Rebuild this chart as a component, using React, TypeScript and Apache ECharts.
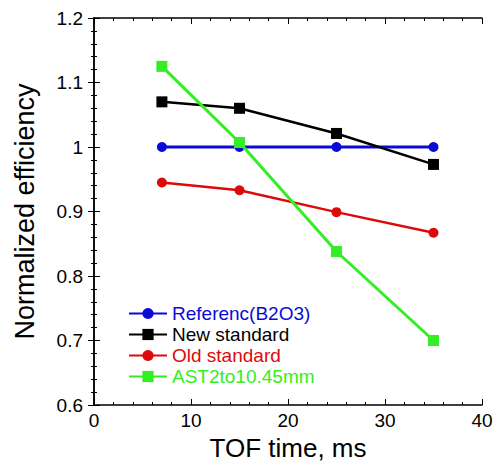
import React, { useEffect, useRef } from "react";
import * as echarts from "echarts";

const xValues = [7, 15, 25, 35];
const referenceB2O3 = [1.0, 1.0, 1.0, 1.0];
const newStandard = [1.07, 1.06, 1.021, 0.973];
const oldStandard = [0.945, 0.933, 0.899, 0.867];
const ast2to1045 = [1.125, 1.007, 0.838, 0.7];

const seriesNames = ["Referenc(B2O3)", "New standard", "Old standard", "AST2to10.45mm"];
const seriesColors = ["#0a0ad6", "#000000", "#dd0a0a", "#33ee22"];
const seriesSymbols = ["circle", "rect", "circle", "rect"];
const seriesWidths = [3, 2.5, 2.5, 3];
const seriesData = [referenceB2O3, newStandard, oldStandard, ast2to1045];

const FONT = "Liberation Sans, Arial, sans-serif";

export default function App() {
  const ref = useRef<HTMLDivElement>(null);
  useEffect(() => {
    if (!ref.current) return;
    const chart = echarts.init(ref.current, null, { renderer: "svg" });
    const axisCommon = {
      axisLine: { show: true, lineStyle: { color: "#000", width: 1.5 } },
      axisTick: { show: true, inside: true, length: 6, lineStyle: { color: "#000", width: 1 } },
      minorTick: { show: true, splitNumber: 5, length: 3, lineStyle: { color: "#000", width: 1 } },
      splitLine: { show: false },
    };
    chart.setOption({
      animation: false,
      backgroundColor: "#fff",
      grid: { left: 94, top: 18, right: 15, bottom: 59, containLabel: false },
      legend: {
        orient: "vertical",
        left: 128,
        top: 304,
        padding: 0,
        itemWidth: 38,
        itemHeight: 14,
        itemGap: 2,
        textStyle: { fontFamily: FONT, fontSize: 19 },
        data: seriesNames.map((n, i) => ({ name: n, textStyle: { color: seriesColors[i] } })),
      },
      xAxis: [
        {
          type: "value",
          min: 0,
          max: 40,
          interval: 10,
          position: "bottom",
          name: "TOF time, ms",
          nameLocation: "middle",
          nameGap: 30,
          nameTextStyle: { fontFamily: FONT, fontSize: 26, color: "#000" },
          axisLabel: { fontFamily: FONT, fontSize: 19, color: "#000", margin: 6 },
          ...axisCommon,
        },
        {
          type: "value",
          min: 0,
          max: 40,
          interval: 10,
          position: "top",
          axisLabel: { show: false },
          ...axisCommon,
        },
      ],
      yAxis: [
        {
          type: "value",
          min: 0.6,
          max: 1.2,
          interval: 0.1,
          position: "left",
          name: "Normalized efficiency",
          nameLocation: "middle",
          nameGap: 56,
          nameTextStyle: { fontFamily: FONT, fontSize: 27, color: "#000" },
          axisLabel: {
            fontFamily: FONT,
            fontSize: 19,
            color: "#000",
            margin: 11,
            formatter: (v: number) => String(Math.round(v * 10) / 10),
          },
          ...axisCommon,
        },
        {
          type: "value",
          min: 0.6,
          max: 1.2,
          interval: 0.1,
          position: "right",
          axisLabel: { show: false },
          ...axisCommon,
        },
      ],
      series: seriesNames.map((name, i) => ({
        name,
        type: "line",
        xAxisIndex: 0,
        yAxisIndex: 0,
        data: xValues.map((x, j) => [x, seriesData[i][j]]),
        symbol: seriesSymbols[i],
        symbolSize: seriesSymbols[i] === "rect" ? 11 : 10,
        showAllSymbol: true,
        itemStyle: { color: seriesColors[i] },
        lineStyle: { color: seriesColors[i], width: seriesWidths[i] },
        z: 2 + i,
      })),
    });
    return () => chart.dispose();
  }, []);
  return (
    <div
      ref={ref}
      style={{ position: "fixed", left: 0, top: 0, width: 497, height: 466 }}
    />
  );
}
